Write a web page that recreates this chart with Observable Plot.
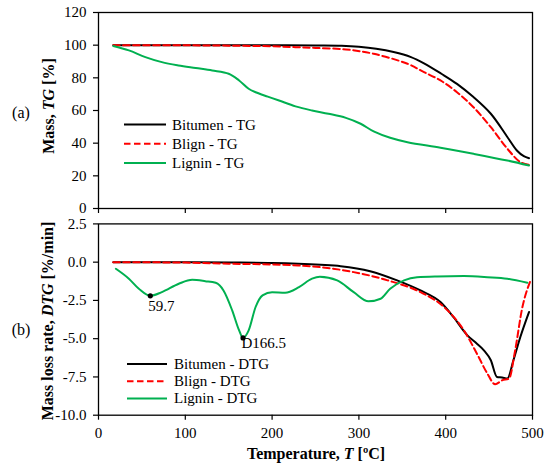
<!DOCTYPE html>
<html><head><meta charset="utf-8">
<script src="https://cdn.jsdelivr.net/npm/d3@7"></script>
<script src="https://cdn.jsdelivr.net/npm/@observablehq/plot@0.6"></script>
<style>
body{margin:0;background:#fff}
#wrap{position:relative;width:550px;height:469px;overflow:hidden;background:#fff}
#wrap svg{position:absolute;left:0}
#wrap svg, #wrap svg text{font-family:'Liberation Serif','DejaVu Serif','Times New Roman',serif !important}
</style></head><body><div id="wrap"></div>
<script>
// ---- data (temperature in °C) ----
const tBitTG = [17, 50, 100, 150, 200, 250, 280, 300, 320, 340, 360, 375, 395, 413, 432, 452, 471, 482, 490, 496];
const vBitTG = [100, 100, 100, 100, 100, 99.8, 99.6, 99, 97.8, 95.8, 92.7, 88.9, 82.5, 76.3, 68.2, 58, 43.8, 35.5, 32, 30.8];
const tBliTG = [17, 100, 150, 200, 227, 250, 285, 317, 356, 375, 394, 413, 432, 452, 471, 486, 496];
const vBliTG = [100, 99.9, 99.7, 99.3, 98.8, 98.3, 97.4, 94.7, 88.6, 83.5, 78.4, 71.2, 62, 49.8, 36.6, 28.4, 26.8];
const tLigTG = [17, 35, 54, 73, 92, 112, 131, 150, 162, 173, 181, 195, 208, 227, 246, 265, 285, 302, 317, 336, 356, 394, 432, 471, 496];
const vLigTG = [99.5, 96.8, 92.7, 89.6, 87.6, 86, 84.5, 82.5, 78.4, 73.3, 71.2, 68.5, 66.1, 62.5, 60, 58, 55.5, 51.9, 47.2, 43.3, 40.6, 37.2, 33.5, 29.4, 26.3];

const tBitDTG = [17, 50, 100, 150, 200, 230, 256, 279, 313, 344, 371, 394, 409, 425, 436, 444, 452, 459, 465, 471, 478, 486, 496];
const vBitDTG = [0, 0, 0, -0.02, -0.05, -0.1, -0.17, -0.26, -0.59, -1.19, -1.85, -2.61, -3.59, -4.78, -5.33, -5.76, -6.41, -7.5, -7.54, -7.61, -6.41, -4.89, -3.26];
const tBliDTG = [17, 100, 150, 200, 230, 256, 294, 333, 371, 398, 421, 436, 448, 457, 465, 473, 480, 488, 497];
const vBliDTG = [0, -0.03, -0.1, -0.15, -0.22, -0.33, -0.65, -1.19, -1.96, -2.93, -4.46, -5.98, -7.28, -7.98, -7.72, -7.61, -5.76, -3.04, -1.3];
const tLigDTG = [20, 35, 46.5, 59.7, 73, 92.5, 108, 123, 135, 144, 154, 162, 166.5, 173, 181, 189, 200, 215, 231, 246, 255, 275, 294, 311, 325, 336, 352, 367, 390, 421, 448, 471, 494];
const vLigDTG = [-0.43, -1.08, -1.74, -2.2, -1.96, -1.41, -1.15, -1.24, -1.35, -1.85, -3.15, -4.46, -4.95, -4.46, -2.93, -2.17, -1.96, -2.0, -1.63, -1.08, -0.95, -1.19, -1.96, -2.56, -2.39, -1.74, -1.19, -0.98, -0.93, -0.91, -0.98, -1.08, -1.35];

const peakT = [59.7, 166.5];
const peakV = [-2.2, -4.95];
const peakLabels = ["59.7", "D166.5"];

const xTicks = [0, 100, 200, 300, 400, 500];
const yTicksTG = [0, 20, 40, 60, 80, 100, 120];
const yTicksDTG = [2.5, 0, -2.5, -5, -7.5, -10];

const seriesTG = ["Bitumen - TG", "Blign - TG", "Lignin - TG"];
const seriesDTG = ["Bitumen - DTG", "Blign - DTG", "Lignin - DTG"];
const colors = ["#000000", "#ff0000", "#00b050"];
const dashes = [null, "6.5,3.5", null];

const rows = (ts, vs) => ts.map((t, i) => ({t, v: vs[i]}));
const font = "'Liberation Serif','DejaVu Serif','Times New Roman',serif";
const wrap = document.getElementById("wrap");

function lineMarks(sets, curve) {
  return sets.map((d, i) => Plot.line(d, {x: "t", y: "v", stroke: colors[i], strokeWidth: 2,
    strokeDasharray: dashes[i] || undefined, curve}));
}

const topPlot = Plot.plot({
  width: 550, height: 216, marginTop: 12, marginBottom: 8, marginLeft: 98, marginRight: 18,
  style: {fontFamily: font, fontSize: "15px", color: "black", background: "transparent"},
  x: {domain: [0, 500]}, y: {domain: [0, 120]},
  marks: [
    Plot.axisX({ticks: xTicks, tickSize: 5, tickFormat: () => "", label: null, strokeWidth: 1.2}),
    Plot.axisY({ticks: yTicksTG, tickSize: 5, tickPadding: 7, label: null, fontSize: 15, strokeWidth: 1.2}),
    ...lineMarks([rows(tBitTG, vBitTG), rows(tBliTG, vBliTG), rows(tLigTG, vLigTG)], "catmull-rom"),
    Plot.frame({stroke: "black", strokeWidth: 1.3})
  ]
});
topPlot.style.top = "0px";
wrap.appendChild(topPlot);

const peaks = peakT.map((t, i) => ({t, v: peakV[i], l: peakLabels[i]}));
const bottomPlot = Plot.plot({
  width: 550, height: 253, marginTop: 7.4, marginBottom: 54.3, marginLeft: 98, marginRight: 18,
  style: {fontFamily: font, fontSize: "15px", color: "black", background: "transparent"},
  x: {domain: [0, 500]}, y: {domain: [-10, 2.5]},
  marks: [
    Plot.axisX({ticks: xTicks, tickSize: 5, tickPadding: 7, label: null, fontSize: 15, strokeWidth: 1.2}),
    Plot.axisY({ticks: yTicksDTG, tickSize: 5, tickPadding: 7, label: null, fontSize: 15, strokeWidth: 1.2,
      tickFormat: d => d.toFixed(1)}),
    ...lineMarks([rows(tBitDTG, vBitDTG), rows(tBliDTG, vBliDTG), rows(tLigDTG, vLigDTG)], "monotone-x"),
    Plot.dot(peaks, {x: "t", y: "v", r: 2.6, fill: "black"}),
    Plot.text(peaks.slice(0, 1), {x: "t", y: "v", text: "l", textAnchor: "start", dx: -2, dy: 10, fontSize: 15, fill: "black"}),
    Plot.text(peaks.slice(1), {x: "t", y: "v", text: "l", textAnchor: "start", dx: -1.5, dy: 5, fontSize: 15, fill: "black"}),
    Plot.frame({stroke: "black", strokeWidth: 1.3})
  ]
});
bottomPlot.style.top = "216px";
wrap.appendChild(bottomPlot);

// ---- overlay: axis titles, panel letters, legends ----
const ov = d3.select(wrap).append("svg").attr("width", 550).attr("height", 469)
  .style("top", "0px").style("pointer-events", "none")
  .attr("font-family", font).attr("fill", "black");

function richLabel(x, y, rot, parts) {
  const t = ov.append("text").attr("transform", `translate(${x},${y}) rotate(${rot})`)
    .attr("text-anchor", "middle").attr("dominant-baseline", "central")
    .attr("font-size", 16).attr("font-weight", "bold");
  parts.forEach(([s, it]) => t.append("tspan").attr("font-style", it ? "italic" : "normal").text(s));
}
richLabel(48, 106, -90, [["Mass, ", false], ["TG", true], [" [%]", false]]);
richLabel(47, 321, -90, [["Mass loss rate, ", false], ["DTG", true], [" [%/min]", false]]);
richLabel(316, 453, 0, [["Temperature, ", false], ["T", true], [" [ºC]", false]]);

ov.append("text").attr("x", 21).attr("y", 112).attr("text-anchor", "middle").attr("dominant-baseline", "central")
  .attr("font-size", 16).text("(a)");
ov.append("text").attr("x", 21).attr("y", 329).attr("text-anchor", "middle").attr("dominant-baseline", "central")
  .attr("font-size", 16).text("(b)");

function legend(names, x0, x1, xt, y0, dy) {
  names.forEach((n, i) => {
    const y = y0 + i * dy;
    ov.append("line").attr("x1", x0).attr("x2", x1).attr("y1", y).attr("y2", y)
      .attr("stroke", colors[i]).attr("stroke-width", 2).attr("stroke-dasharray", dashes[i]);
    ov.append("text").attr("x", xt).attr("y", y).attr("dominant-baseline", "central")
      .attr("font-size", 15).text(n);
  });
}
legend(seriesTG, 124, 166, 172, 124.5, 19.2);
legend(seriesDTG, 127, 167, 174, 364, 17.2);
</script></body></html>
